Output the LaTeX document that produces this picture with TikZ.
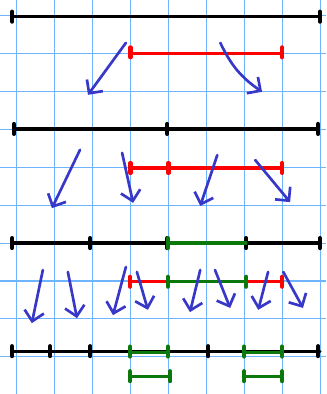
\documentclass[tikz,border=0pt]{standalone}
\usetikzlibrary{arrows.meta}
\definecolor{gridblue}{RGB}{110,180,255}
\definecolor{penblue}{RGB}{55,55,200}
\definecolor{pengreen}{RGB}{10,120,10}
\definecolor{penred}{RGB}{255,0,0}
\begin{document}
\begin{tikzpicture}[
  gridline/.style={gridblue,line width=0.8pt},
  blk/.style={black,line width=2.4pt,line cap=round},
  redl/.style={penred,line width=2.4pt,line cap=round},
  grn/.style={pengreen,line width=2.4pt,line cap=round},
  arr/.style={penblue,line width=2pt,line cap=round,-{Straight Barb[length=2.6mm,width=5.2mm,line width=2pt]}},
  tk/.style={line width=3.2pt,line cap=round}
]
\useasboundingbox (-0.44,0.41) rectangle (8.16,-9.98);
% grid
\foreach \x in {0,...,8} \draw[gridline] (\x,0.41) -- (\x,-9.98);
\foreach \y in {0,...,9} \draw[gridline] (-0.44,-\y) -- (8.16,-\y);

% tick helper
\newcommand{\tickmark}[3]{\draw[tk,#1] (#2,#3+0.13) -- (#2,#3-0.13);}

% row 1
\coordinate (a0) at (-0.12,-0.03);
\coordinate (a1) at (8.0,-0.03);
\draw[blk] (a0) -- (a1);
\tickmark{black}{-0.12}{-0.03}
\tickmark{black}{8.0}{-0.03}
\coordinate (r0) at (3.0,-1.01);
\coordinate (r1) at (7.0,-1.01);
\draw[redl] (r0) -- (r1);
\tickmark{penred}{3.0}{-0.97}
\tickmark{penred}{7.0}{-0.97}
\coordinate (p1s) at (2.88,-0.72); \coordinate (p1e) at (1.88,-2.09);
\coordinate (p2s) at (5.37,-0.72); \coordinate (p2e) at (6.47,-2.01);
\draw[arr] (p1s) -- (p1e);
\draw[arr] (p2s) to[bend right=15] (p2e);

% row 2
\coordinate (b0) at (-0.07,-2.99);
\coordinate (b1) at (7.95,-2.99);
\draw[blk] (b0) -- (b1);
\tickmark{black}{-0.07}{-2.99}
\tickmark{black}{3.97}{-2.99}
\tickmark{black}{7.95}{-2.99}
\coordinate (s0) at (3.0,-4.02);
\coordinate (s1) at (7.0,-4.02);
\draw[redl] (s0) -- (s1);
\tickmark{penred}{3.0}{-4.02}
\tickmark{penred}{4.0}{-4.02}
\tickmark{penred}{7.0}{-4.02}
\coordinate (q1s) at (1.67,-3.54); \coordinate (q1e) at (0.93,-5.08);
\coordinate (q2s) at (2.78,-3.62); \coordinate (q2e) at (3.07,-4.94);
\coordinate (q3s) at (5.29,-3.68); \coordinate (q3e) at (4.84,-5.02);
\coordinate (q4s) at (6.29,-3.81); \coordinate (q4e) at (7.21,-4.92);
\draw[arr] (q1s) -- (q1e);
\draw[arr] (q2s) -- (q2e);
\draw[arr] (q3s) -- (q3e);
\draw[arr] (q4s) -- (q4e);

% row 3
\coordinate (c0) at (-0.12,-6.0);
\coordinate (c1) at (8.0,-6.0);
\draw[blk] (c0) -- (c1);
\tickmark{black}{-0.12}{-6.0}
\tickmark{black}{1.94}{-6.0}
\tickmark{black}{3.97}{-6.0}
\tickmark{black}{6.05}{-6.0}
\tickmark{black}{8.0}{-6.0}
\coordinate (g0) at (3.99,-6.0);
\coordinate (g1) at (6.05,-6.0);
\draw[grn] (g0) -- (g1);
\tickmark{pengreen}{3.99}{-6.0}
\coordinate (t0) at (2.99,-7.02);
\coordinate (t1) at (7.0,-7.02);
\draw[redl] (t0) -- (t1);
\coordinate (h0) at (3.99,-7.02);
\coordinate (h1) at (6.05,-7.02);
\draw[grn] (h0) -- (h1);
\tickmark{penred}{2.99}{-7.02}
\tickmark{pengreen}{3.99}{-7.02}
\tickmark{pengreen}{6.05}{-7.02}
\tickmark{penred}{7.0}{-7.02}
\coordinate (u1s) at (0.69,-6.71); \coordinate (u1e) at (0.40,-8.11);
\coordinate (u2s) at (1.35,-6.76); \coordinate (u2e) at (1.59,-7.98);
\coordinate (u3s) at (2.88,-6.63); \coordinate (u3e) at (2.54,-7.90);
\coordinate (u4s) at (3.17,-6.76); \coordinate (u4e) at (3.46,-7.76);
\coordinate (u5s) at (4.84,-6.71); \coordinate (u5e) at (4.57,-7.82);
\coordinate (u6s) at (5.23,-6.71); \coordinate (u6e) at (5.63,-7.71);
\coordinate (u7s) at (6.63,-6.76); \coordinate (u7e) at (6.37,-7.76);
\coordinate (u8s) at (7.03,-6.76); \coordinate (u8e) at (7.55,-7.71);
\foreach \i in {1,...,8} \draw[arr] (u\i s) -- (u\i e);

% row 4
\coordinate (d0) at (-0.12,-8.85);
\coordinate (d1) at (8.0,-8.85);
\draw[blk] (d0) -- (d1);
\foreach \x in {-0.12,0.88,1.94,5.05,7.95} {\tickmark{black}{\x}{-8.85}}
\coordinate (k0) at (2.99,-8.88); \coordinate (k1) at (3.99,-8.88);
\coordinate (k2) at (6.0,-8.88); \coordinate (k3) at (7.0,-8.88);
\draw[grn] (k0) -- (k1);
\draw[grn] (k2) -- (k3);
\foreach \x in {2.99,3.99,6.0,7.0} {\tickmark{pengreen}{\x}{-8.86}}

% row 5
\coordinate (m0) at (2.99,-9.51); \coordinate (m1) at (4.05,-9.51);
\coordinate (m2) at (6.0,-9.51); \coordinate (m3) at (7.0,-9.51);
\draw[grn] (m0) -- (m1);
\draw[grn] (m2) -- (m3);
\foreach \x in {2.99,4.05,6.0,7.0} {\tickmark{pengreen}{\x}{-9.51}}
\end{tikzpicture}
\end{document}
